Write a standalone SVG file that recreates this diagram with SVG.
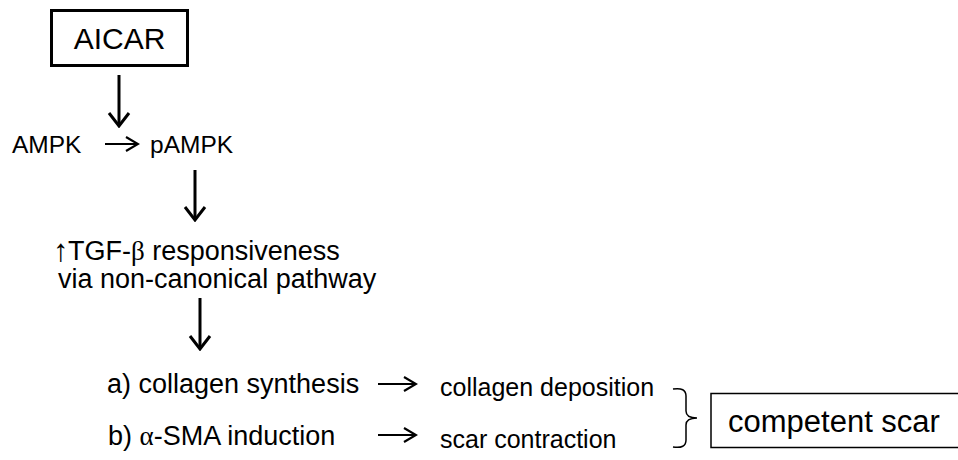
<svg xmlns="http://www.w3.org/2000/svg" width="958" height="460" viewBox="0 0 958 460">
<style>
text{font-family:"Liberation Sans",Arial,sans-serif;fill:#000}
.sym{font-family:"Liberation Serif","Times New Roman",serif}
.arr{font-family:"Liberation Sans",Arial,sans-serif}
.big{stroke:#000;stroke-width:3;fill:none}
.hz{stroke:#000;stroke-width:2.2;fill:none}
</style>
<defs>
<marker id="vh" markerUnits="userSpaceOnUse" viewBox="-14 -12 16 24" refX="0" refY="0" markerWidth="16" markerHeight="24" orient="auto">
<path d="M-13,-10 L0,0 L-13,10" fill="none" stroke="#000" stroke-width="3"/>
</marker>
<marker id="hh" markerUnits="userSpaceOnUse" viewBox="-14 -9 16 18" refX="0" refY="0" markerWidth="16" markerHeight="18" orient="auto">
<path d="M-12,-7 L0,0 L-12,7" fill="none" stroke="#000" stroke-width="2.2"/>
</marker>
</defs>
<g id="aicar">
<rect x="51.5" y="10.5" width="136" height="55" fill="#fff" stroke="#000" stroke-width="3"/>
<text x="119.5" y="49" font-size="30" text-anchor="middle">AICAR</text>
</g>
<g id="ampk"><text x="12" y="153" font-size="24.5">AMPK</text></g>
<g id="pampk"><text x="150" y="153" font-size="24.5">pAMPK</text></g>
<g id="tgf">
<text x="53" y="261" font-size="27"><tspan class="arr" font-size="31">↑</tspan><tspan x="68" y="260">TGF-</tspan><tspan class="sym">β</tspan> responsiveness</text>
<text x="58" y="288" font-size="27">via non-canonical pathway</text>
</g>
<g id="collagen-synthesis"><text x="107" y="393" font-size="27">a) collagen synthesis</text></g>
<g id="sma-induction"><text x="108" y="445" font-size="27">b) <tspan class="sym">α</tspan>-SMA induction</text></g>
<g id="collagen-deposition"><text x="440" y="396" font-size="25">collagen deposition</text></g>
<g id="scar-contraction"><text x="440" y="448" font-size="25">scar contraction</text></g>
<g id="brace"><path d="M673,389 Q686,387 686,396 L686,411 Q686,418 697,418 Q686,418 686,425 L686,440 Q686,449 673,447" fill="none" stroke="#000" stroke-width="1.5"/></g>
<g id="competent-scar">
<rect x="711" y="393.5" width="260" height="54" fill="#fff" stroke="#000" stroke-width="1.5"/>
<text x="728" y="432" font-size="31">competent scar</text>
</g>
<g id="connectors">
<line class="big" x1="119" y1="75" x2="119" y2="126" marker-end="url(#vh)"/>
<line class="hz" x1="105" y1="144" x2="138" y2="144" marker-end="url(#hh)"/>
<line class="big" x1="195" y1="170" x2="195" y2="220" marker-end="url(#vh)"/>
<line class="big" x1="200" y1="298" x2="200" y2="349" marker-end="url(#vh)"/>
<line class="hz" x1="378" y1="384" x2="416" y2="384" marker-end="url(#hh)"/>
<line class="hz" x1="378" y1="435" x2="416" y2="435" marker-end="url(#hh)"/>
</g>
</svg>
